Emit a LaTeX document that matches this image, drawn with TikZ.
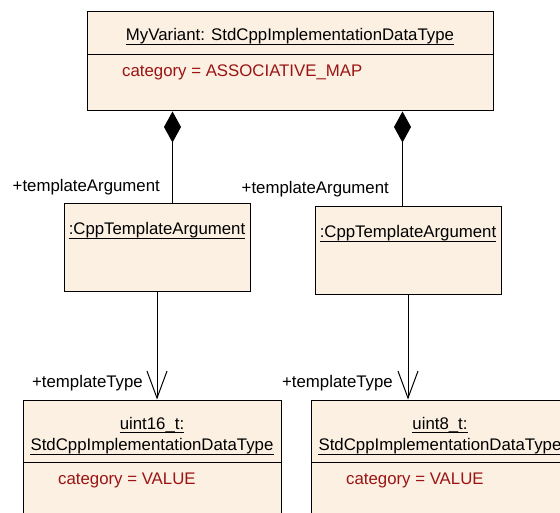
\documentclass[tikz,border=0pt]{standalone}
\usepackage{fontspec}
\setmainfont{Liberation Sans}
\usetikzlibrary{arrows.meta}
\definecolor{boxfill}{RGB}{251,240,226}
\definecolor{attrred}{RGB}{155,20,20}

\begin{document}
\begin{tikzpicture}[x=1pt, y=-1pt,
  box/.style={draw, fill=boxfill, line width=1pt, rectangle, inner sep=0pt},
  txt/.style={inner sep=0pt, font=\fontsize{16.8}{20}\selectfont},
  title/.style={txt, anchor=base},
  attr/.style={txt, text=attrred, anchor=base west},
  role/.style={txt, anchor=base east},
  comp/.style={line width=1pt, {Diamond[length=31pt,width=17pt]}-},
  nav/.style={line width=1pt, -{Straight Barb[length=27pt,width=20pt]}}]

\clip (0,0) rectangle (560,513);

\node[box, minimum width=406pt, minimum height=99pt] (var) at (290,61.5) {};
\node[title] (varT) at (290,41) {MyVariant: StdCppImplementationDataType};
\draw ([yshift=-3.5pt]varT.base west) -- ([yshift=-3.5pt]varT.base east);
\draw ([yshift=-43pt]var.north west) -- ([yshift=-43pt]var.north east);
\node[attr] (varA) at (122,77) {category = ASSOCIATIVE\_MAP};

\node[box, minimum width=186pt, minimum height=88pt] (argL) at (157,248) {};
\node[title] (argLT) at (157,235) {:CppTemplateArgument};
\draw ([yshift=-3.5pt]argLT.base west) -- ([yshift=-3.5pt]argLT.base east);

\node[box, minimum width=186pt, minimum height=88pt] (argR) at (408,251) {};
\node[title] (argRT) at (408,238) {:CppTemplateArgument};
\draw ([yshift=-3.5pt]argRT.base west) -- ([yshift=-3.5pt]argRT.base east);

\node[box, minimum width=258pt, minimum height=130pt] (u16) at (152,465) {};
\node[title] (u16T) at (152,429) {uint16\_t:};
\draw ([yshift=-3.5pt]u16T.base west) -- ([yshift=-3.5pt]u16T.base east);
\node[title] (u16S) at (152,450.5) {StdCppImplementationDataType};
\draw ([yshift=-3.5pt]u16S.base west) -- ([yshift=-3.5pt]u16S.base east);
\draw ([yshift=-63pt]u16.north west) -- ([yshift=-63pt]u16.north east);
\node[attr] (u16A) at (58,484) {category = VALUE};

\node[box, minimum width=258pt, minimum height=130pt] (u8) at (440,465) {};
\node[title] (u8T) at (440,429) {uint8\_t:};
\draw ([yshift=-3.5pt]u8T.base west) -- ([yshift=-3.5pt]u8T.base east);
\node[title] (u8S) at (440,450.5) {StdCppImplementationDataType};
\draw ([yshift=-3.5pt]u8S.base west) -- ([yshift=-3.5pt]u8S.base east);
\draw ([yshift=-63pt]u8.north west) -- ([yshift=-63pt]u8.north east);
\node[attr] (u8A) at (346,484) {category = VALUE};

\draw[comp] ([xshift=86pt]var.south west) coordinate (cL) -- (cL |- argL.north);
\draw[comp] ([xshift=316pt]var.south west) coordinate (cR) -- (cR |- argR.north);
\node[role] (rArgL) at (160,192) {+templateArgument};
\node[role] (rArgR) at (389,194) {+templateArgument};

\draw[nav] (argL.south) -- (argL.south |- u16.north);
\draw[nav] (argR.south) -- (argR.south |- u8.north);
\node[role] (rTypeL) at (143,387) {+templateType};
\node[role] (rTypeR) at (393,387) {+templateType};
\end{tikzpicture}
\end{document}
